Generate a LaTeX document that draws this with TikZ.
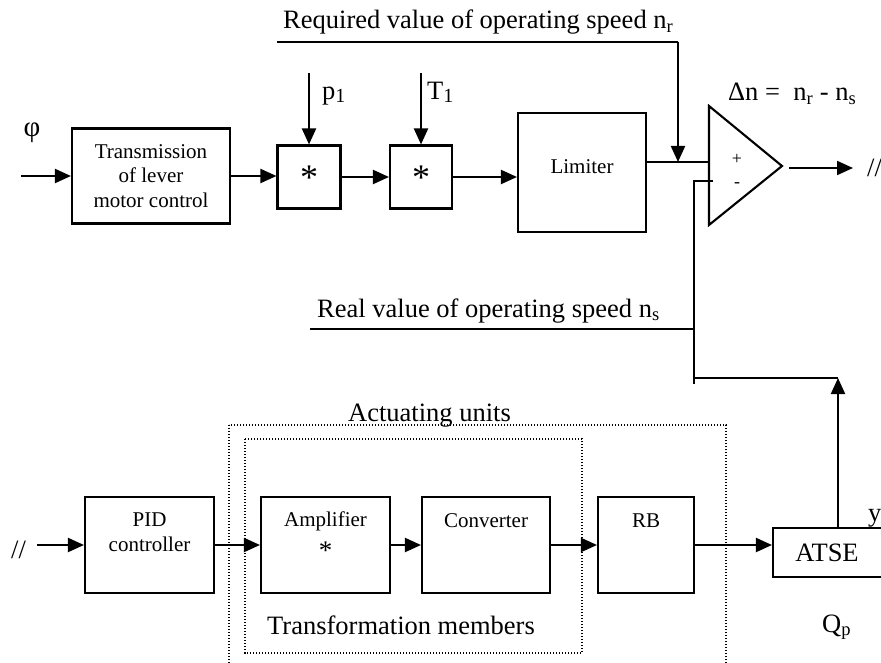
\documentclass[tikz,border=0pt]{standalone}
\usepackage{fontspec}
\setmainfont{Liberation Serif}
\usetikzlibrary{arrows.meta}
\tikzset{
  ln/.style={line width=2.1pt},
  arr/.style={ln,-{Triangle[length=16pt,width=14pt]}},
  blk/.style={draw,line width=2.1pt,rectangle,inner sep=0pt},
  dots/.style={line width=1.4pt,dash pattern=on 1.4pt off 1.6pt},
  big/.style={font=\fontsize{26.5}{30}\selectfont,inner sep=0pt},
  sm/.style={font=\fontsize{21}{24.5}\selectfont,inner sep=0pt,align=center},
  pm/.style={font=\fontsize{18}{18}\selectfont,inner sep=0pt},
  star/.style={font=\fontsize{36}{36}\selectfont,inner sep=0pt},
}
\begin{document}
\begin{tikzpicture}[x=1pt,y=-1pt]
\useasboundingbox (0,0) rectangle (881,663);
\clip (0,0) rectangle (881,663);

% ---------- top row ----------
\node[blk,sm,minimum width=158pt,minimum height=95pt] (trans) at (151,176)
  {Transmission\\of lever\\motor control};
\node[blk,minimum width=63pt,minimum height=63pt] (m1) at (309,177) {};
\node[blk,minimum width=62pt,minimum height=63pt] (m2) at (421,177) {};
\node[blk,minimum width=128pt,minimum height=119pt] (lim) at (582,172.5) {};
\node[star] (s1) at (309,178) {*};
\node[star] (s2) at (421,178) {*};
\node[sm] (limt) at (582,167) {Limiter};

\node[font=\fontsize{29}{30}\selectfont,inner sep=0pt] (phi) at (32,133) {φ};
\coordinate (in1) at (21,176);
\draw[arr] (in1) -- (trans.west);
\draw[arr] (trans.east) -- (trans.east -| m1.west);
\draw[arr] (m1.east) -- (m2.west);
\draw[arr] (m2.east) -- (m2.east -| lim.west);

\coordinate (p1top) at (309,73);
\coordinate (t1top) at (421,73);
\draw[arr] (p1top) -- (m1.north);
\draw[arr] (t1top) -- (m2.north);
\node[big,anchor=base west] (p1) at (322,100) {p\raisebox{-3pt}{\fontsize{20}{20}\selectfont 1}};
\node[big,anchor=base west] (t1) at (427,100) {T\raisebox{-3pt}{\fontsize{20}{20}\selectfont 1}};

% comparator
\coordinate (tA) at (709,106);
\coordinate (tB) at (782,166);
\coordinate (tC) at (709,225);
\draw[ln,line join=miter] (tA) -- (tB) -- (tC) -- cycle;
\coordinate (cP) at (709,162);
\coordinate (cM) at (713,181);
\node[pm] (plus) at (737,159) {+};
\node[pm] (minus) at (737,185) {-};
\draw[ln] (lim.east |- cP) -- (cP);

% required value
\node[big,anchor=base west] (treq) at (283,29) {Required value of operating speed n\textsubscript{r}};
\coordinate (rq0) at (277,42);
\coordinate (rq1) at (678,42);
\draw[ln] (rq0) -- (rq1);
\draw[arr] (rq1) -- (rq1 |- cP);

\node[big,anchor=base west] (dn) at (728,101) {Δn =\ \ n\textsubscript{r} - n\textsubscript{s}};
\coordinate (o1) at (789,168);
\coordinate (o2) at (853,168);
\draw[arr] (o1) -- (o2);
\node[big,anchor=west] (dsr) at (867,168) {//};

% feedback
\coordinate (fb) at (694,181);
\coordinate (fbBot) at (694,384);
\coordinate (fbR) at (838,378);
\draw[ln] (cM) -- (fb) -- (fbBot);
\coordinate (rv0) at (310,329);
\draw[ln] (rv0) -- (rv0 -| fb);
\node[big,anchor=base west] (treal) at (317,317) {Real value of operating speed n\textsubscript{s}};
\draw[ln] (fbR -| fb) -- (fbR);

% ---------- bottom row ----------
\draw[dots] (229,425) rectangle (726,690);
\draw[dots] (245,439) rectangle (582,653);
\node[big,anchor=base west] (tact) at (348,421) {Actuating units};
\node[big,anchor=base west] (ttrm) at (267,634) {Transformation members};

\node[blk,minimum width=129pt,minimum height=96pt] (pid) at (149.5,545) {};
\node[blk,minimum width=129pt,minimum height=96pt] (amp) at (325.5,545) {};
\node[blk,minimum width=128pt,minimum height=96pt] (conv) at (486,545) {};
\node[blk,minimum width=96pt,minimum height=96pt] (rb) at (646,545) {};
\node[blk,minimum width=120pt,minimum height=49pt] (atse) at (833,552.5) {};

\node[sm] (pidt) at (149.5,532) {PID\\controller};
\node[sm] (ampt) at (325.5,521) {Amplifier};
\node[font=\fontsize{27}{27}\selectfont,inner sep=0pt] (amps) at (325.5,551) {*};
\node[sm] (convt) at (486,521) {Converter};
\node[sm] (rbt) at (646,521) {RB};
\node[big] (atset) at (827,553) {ATSE};
\node[big,anchor=base west] (qp) at (822,632) {Q\textsubscript{p}};
\node[big,anchor=base west] (yy) at (868,521) {y};

\node[big,anchor=west] (dsl) at (11,550) {//};
\coordinate (in2) at (37,545);
\draw[arr] (in2) -- (pid.west);
\draw[arr] (pid.east) -- (amp.west);
\draw[arr] (amp.east) -- (conv.west);
\draw[arr] (conv.east) -- (rb.west);
\draw[arr] (rb.east) -- (rb.east -| atse.west);
\draw[arr] (atse.north -| fbR) -- (fbR);
\end{tikzpicture}
\end{document}
